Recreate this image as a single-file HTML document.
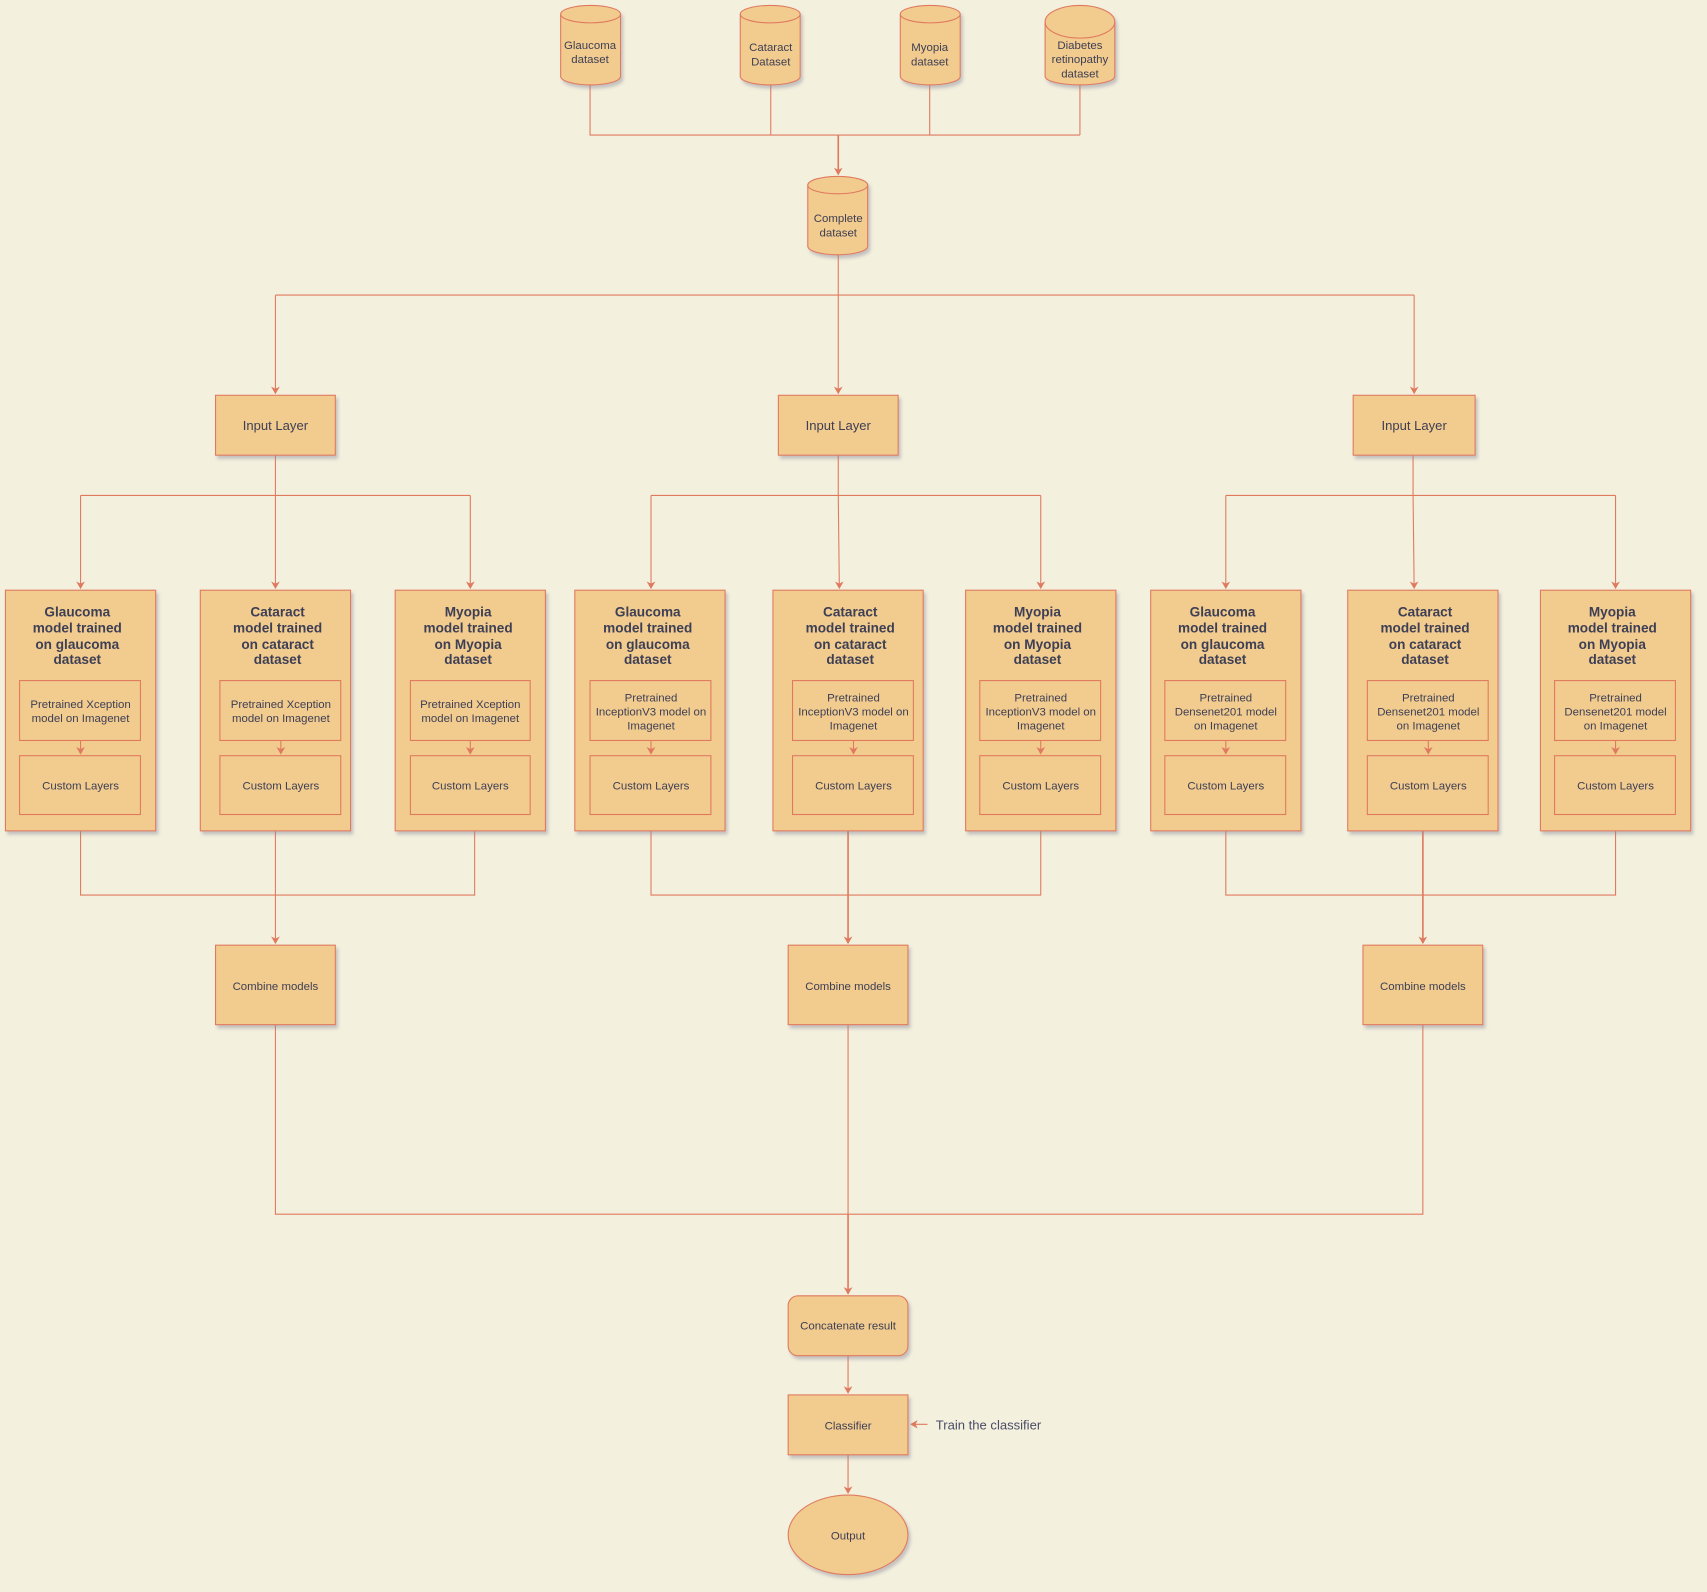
<!DOCTYPE html>
<html><head><meta charset="utf-8"><style>
html,body{margin:0;padding:0;background:#f4f0de;}
svg{display:block}
text{font-family:"Liberation Sans",sans-serif;fill:#3d3f55;text-anchor:middle;}
.n{font-size:10.5px}
.b{font-size:12.5px;font-weight:bold}
</style></head><body>
<svg width="1707" height="1592" viewBox="0 0 1568 1462" preserveAspectRatio="none" xmlns="http://www.w3.org/2000/svg">
<defs>
<filter id="sh" x="-10%" y="-10%" width="130%" height="130%"><feDropShadow dx="2" dy="3" stdDeviation="1.5" flood-color="#8a8a99" flood-opacity="0.45"/></filter>
<marker id="ar" markerWidth="8" markerHeight="8" refX="6" refY="4" orient="auto" markerUnits="userSpaceOnUse"><path d="M0,0 L7,4 L0,8 L2,4 z" fill="#e07a5f"/></marker>
</defs>
<g fill="none" stroke="#e07a5f" stroke-width="1">
<!-- top datasets to complete -->
<path d="M542,78 V124 H992 M708,78 V124 M854,78 V124 M992,78 V124"/>
<path d="M770,124 V160" stroke-width="1.5" marker-end="url(#ar)"/>
<!-- complete to input layers -->
<path d="M770,234 V271 M253,271 H1299"/>
<path d="M253,271 V361" marker-end="url(#ar)"/>
<path d="M770,271 V361" marker-end="url(#ar)"/>
<path d="M1299,271 V361" marker-end="url(#ar)"/>
<!-- input to models -->
<path d="M253,418 V455 M74,455 H432"/>
<path d="M74,455 V540" marker-end="url(#ar)"/><path d="M253,455 V540" marker-end="url(#ar)"/><path d="M432,455 V540" marker-end="url(#ar)"/>
<path d="M770,418 V455 M598,455 H956"/>
<path d="M598,455 V540" marker-end="url(#ar)"/><path d="M770,455 L771,540" marker-end="url(#ar)"/><path d="M956,455 V540" marker-end="url(#ar)"/>
<path d="M1298,418 V455 M1126,455 H1484"/>
<path d="M1126,455 V540" marker-end="url(#ar)"/><path d="M1298,455 L1299,540" marker-end="url(#ar)"/><path d="M1484,455 V540" marker-end="url(#ar)"/>
<!-- models to combine -->
<path d="M74,763 V822 H436 V763"/><path d="M253,763 V866" marker-end="url(#ar)"/>
<path d="M598,763 V822 H956 V763"/><path d="M779,763 V866" stroke-width="1.5" marker-end="url(#ar)"/>
<path d="M1126,763 V822 H1484 V763"/><path d="M1307,763 V866" stroke-width="1.5" marker-end="url(#ar)"/>
<!-- combine to concat -->
<path d="M253,941 V1115 H1307 V941 M779,941 V1115"/>
<path d="M779,1115 V1188" stroke-width="1.5" marker-end="url(#ar)"/>
<path d="M779,1245 V1279" marker-end="url(#ar)"/>
<path d="M779,1336 V1371" marker-end="url(#ar)"/>
<path d="M852,1308 H837" marker-end="url(#ar)"/>
</g>
<g fill="#f2cb8e" stroke="#e07a5f" stroke-width="1" filter="url(#sh)">
<path d="M515,13 a27.5,8 0 0 1 55,0 v57 a27.5,8 0 0 1 -55,0 z"/>
<path d="M680,13 a27.5,8 0 0 1 55,0 v57 a27.5,8 0 0 1 -55,0 z"/>
<path d="M827,13 a27.5,8 0 0 1 55,0 v57 a27.5,8 0 0 1 -55,0 z"/>
<path d="M960,20 a32,15 0 0 1 64,0 v50 a32,8 0 0 1 -64,0 z"/>
<path d="M742,170 a27.5,8 0 0 1 55,0 v56 a27.5,8 0 0 1 -55,0 z"/>
<rect x="198" y="363" width="110" height="55"/>
<rect x="715" y="363" width="110" height="55"/>
<rect x="1243" y="363" width="112" height="55"/>
<rect x="5" y="542" width="138" height="221"/>
<rect x="184" y="542" width="138" height="221"/>
<rect x="363" y="542" width="138" height="221"/>
<rect x="528" y="542" width="138" height="221"/>
<rect x="710" y="542" width="138" height="221"/>
<rect x="887" y="542" width="138" height="221"/>
<rect x="1057" y="542" width="138" height="221"/>
<rect x="1238" y="542" width="138" height="221"/>
<rect x="1415" y="542" width="138" height="221"/>
<rect x="198" y="868" width="110" height="73"/>
<rect x="724" y="868" width="110" height="73"/>
<rect x="1252" y="868" width="110" height="73"/>
<rect x="724" y="1190" width="110" height="55" rx="9"/>
<rect x="724" y="1281" width="110" height="55"/>
<ellipse cx="779" cy="1409.5" rx="55" ry="36.5"/>
</g>
<g fill="none" stroke="#e07a5f" stroke-width="1">
<path d="M515,13 a27.5,8 0 0 0 55,0 M680,13 a27.5,8 0 0 0 55,0 M827,13 a27.5,8 0 0 0 55,0 M960,20 a32,15 0 0 0 64,0 M742,170 a27.5,8 0 0 0 55,0"/>
<rect x="18" y="625" width="111" height="55"/><rect x="18" y="694" width="111" height="54"/>
<rect x="202" y="625" width="111" height="55"/><rect x="202" y="694" width="111" height="54"/>
<rect x="377" y="625" width="110" height="55"/><rect x="377" y="694" width="110" height="54"/>
<rect x="542" y="625" width="111" height="55"/><rect x="542" y="694" width="111" height="54"/>
<rect x="728" y="625" width="111" height="55"/><rect x="728" y="694" width="111" height="54"/>
<rect x="900" y="625" width="111" height="55"/><rect x="900" y="694" width="111" height="54"/>
<rect x="1070" y="625" width="111" height="55"/><rect x="1070" y="694" width="111" height="54"/>
<rect x="1256" y="625" width="111" height="55"/><rect x="1256" y="694" width="111" height="54"/>
<rect x="1428" y="625" width="111" height="55"/><rect x="1428" y="694" width="111" height="54"/>
<path d="M74,680 V692" marker-end="url(#ar)"/><path d="M258,680 V692" marker-end="url(#ar)"/><path d="M432,680 V692" marker-end="url(#ar)"/>
<path d="M598,680 V692" marker-end="url(#ar)"/><path d="M784,680 V692" marker-end="url(#ar)"/><path d="M956,680 V692" marker-end="url(#ar)"/>
<path d="M1126,680 V692" marker-end="url(#ar)"/><path d="M1312,680 V692" marker-end="url(#ar)"/><path d="M1484,680 V692" marker-end="url(#ar)"/>
</g>
<g class="n">
<text x="542" y="45">Glaucoma</text><text x="542" y="58">dataset</text>
<text x="708" y="47">Cataract</text><text x="708" y="60">Dataset</text>
<text x="854" y="47">Myopia</text><text x="854" y="60">dataset</text>
<text x="992" y="45">Diabetes</text><text x="992" y="58">retinopathy</text><text x="992" y="71">dataset</text>
<text x="770" y="204">Complete</text><text x="770" y="217">dataset</text>
<text x="253" y="395" font-size="12">Input Layer</text>
<text x="770" y="395" font-size="12">Input Layer</text>
<text x="1299" y="395" font-size="12">Input Layer</text>
<text x="74" y="650">Pretrained Xception</text><text x="74" y="663">model on Imagenet</text>
<text x="258" y="650">Pretrained Xception</text><text x="258" y="663">model on Imagenet</text>
<text x="432" y="650">Pretrained Xception</text><text x="432" y="663">model on Imagenet</text>
<text x="598" y="644">Pretrained</text><text x="598" y="657">InceptionV3 model on</text><text x="598" y="670">Imagenet</text>
<text x="784" y="644">Pretrained</text><text x="784" y="657">InceptionV3 model on</text><text x="784" y="670">Imagenet</text>
<text x="956" y="644">Pretrained</text><text x="956" y="657">InceptionV3 model on</text><text x="956" y="670">Imagenet</text>
<text x="1126" y="644">Pretrained</text><text x="1126" y="657">Densenet201 model</text><text x="1126" y="670">on Imagenet</text>
<text x="1312" y="644">Pretrained</text><text x="1312" y="657">Densenet201 model</text><text x="1312" y="670">on Imagenet</text>
<text x="1484" y="644">Pretrained</text><text x="1484" y="657">Densenet201 model</text><text x="1484" y="670">on Imagenet</text>
<text x="74" y="725">Custom Layers</text><text x="258" y="725">Custom Layers</text><text x="432" y="725">Custom Layers</text>
<text x="598" y="725">Custom Layers</text><text x="784" y="725">Custom Layers</text><text x="956" y="725">Custom Layers</text>
<text x="1126" y="725">Custom Layers</text><text x="1312" y="725">Custom Layers</text><text x="1484" y="725">Custom Layers</text>
<text x="253" y="909">Combine models</text><text x="779" y="909">Combine models</text><text x="1307" y="909">Combine models</text>
<text x="779" y="1221">Concatenate result</text>
<text x="779" y="1313">Classifier</text>
<text x="779" y="1414">Output</text>
<text x="908" y="1313" font-size="12" style="fill:#4a4d66">Train the classifier</text>
</g>
<g class="b">
<text x="71" y="566">Glaucoma</text><text x="71" y="581">model trained</text><text x="71" y="596">on glaucoma</text><text x="71" y="610">dataset</text>
<text x="255" y="566">Cataract</text><text x="255" y="581">model trained</text><text x="255" y="596">on cataract</text><text x="255" y="610">dataset</text>
<text x="430" y="566">Myopia</text><text x="430" y="581">model trained</text><text x="430" y="596">on Myopia</text><text x="430" y="610">dataset</text>
<text x="595" y="566">Glaucoma</text><text x="595" y="581">model trained</text><text x="595" y="596">on glaucoma</text><text x="595" y="610">dataset</text>
<text x="781" y="566">Cataract</text><text x="781" y="581">model trained</text><text x="781" y="596">on cataract</text><text x="781" y="610">dataset</text>
<text x="953" y="566">Myopia</text><text x="953" y="581">model trained</text><text x="953" y="596">on Myopia</text><text x="953" y="610">dataset</text>
<text x="1123" y="566">Glaucoma</text><text x="1123" y="581">model trained</text><text x="1123" y="596">on glaucoma</text><text x="1123" y="610">dataset</text>
<text x="1309" y="566">Cataract</text><text x="1309" y="581">model trained</text><text x="1309" y="596">on cataract</text><text x="1309" y="610">dataset</text>
<text x="1481" y="566">Myopia</text><text x="1481" y="581">model trained</text><text x="1481" y="596">on Myopia</text><text x="1481" y="610">dataset</text>
</g>
</svg>
</body></html>
